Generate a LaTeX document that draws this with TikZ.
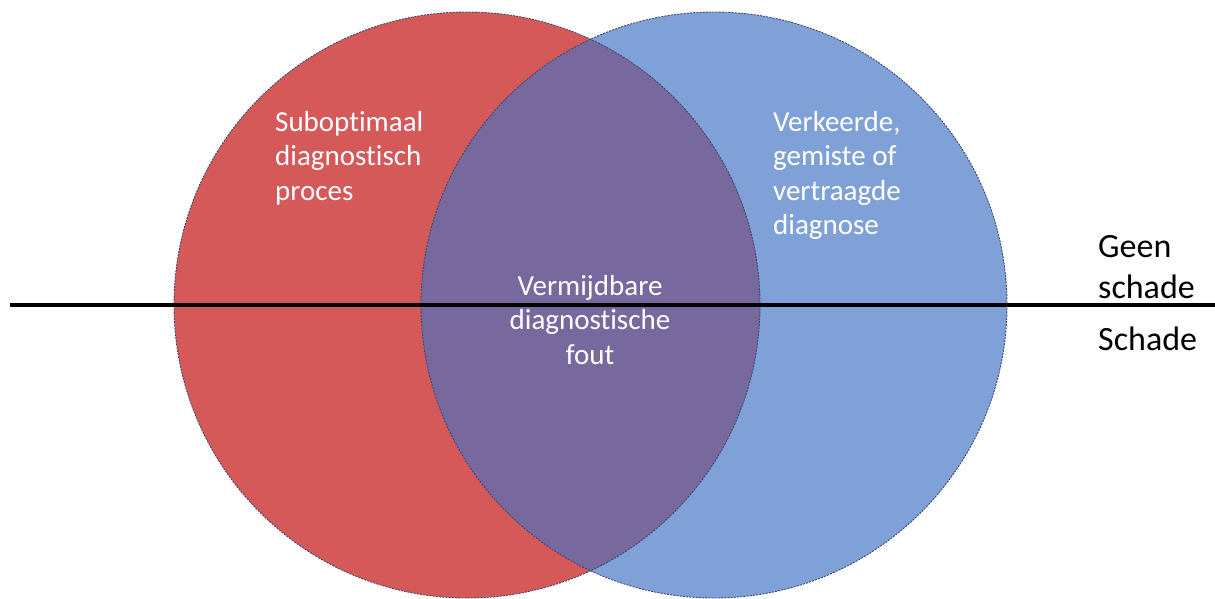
\documentclass[tikz,border=0pt]{standalone}
\usepackage{fontspec}
\setmainfont[Ligatures=NoCommon]{Carlito}
\definecolor{vred}{RGB}{214,89,90}
\definecolor{vblue}{RGB}{128,161,216}
\definecolor{vpurple}{RGB}{119,104,157}
\definecolor{vedge}{RGB}{60,70,105}
\begin{document}
\begin{tikzpicture}[x=1pt,y=-1pt,
  edge/.style={draw=vedge,line width=0.9pt,dash pattern=on 2pt off 1.2pt},
  wtext/.style={text=white,inner sep=0pt,font=\fontsize{29}{34.5}\selectfont},
  btext/.style={text=black,inner sep=0pt,font=\fontsize{34}{41}\selectfont}]
\useasboundingbox (0,0) rectangle (1215,598);
\coordinate (cr) at (467,305);
\coordinate (cb) at (714,305);
\fill[vred] (cr) circle[radius=293];
\fill[vblue] (cb) circle[radius=293];
\begin{scope}
  \clip (cr) circle[radius=293];
  \fill[vpurple] (cb) circle[radius=293];
\end{scope}
\draw[edge] (cr) circle[radius=293];
\draw[edge] (cb) circle[radius=293];
\coordinate (lineL) at (10,305);
\coordinate (lineR) at (1215,305);
\draw[line width=3.5pt] (lineL) -- (lineR);
\node[wtext,anchor=base west,align=left] (sub) at (275,200) {Suboptimaal\\diagnostisch\\proces};
\node[wtext,anchor=base west,align=left] (verk) at (773,234.5) {Verkeerde,\\gemiste of\\vertraagde\\diagnose};
\node[wtext,anchor=base,align=center] (verm) at (590,364) {Vermijdbare\\diagnostische\\fout};
\node[btext,anchor=base west,align=left] (geen) at (1098,298) {Geen\\schade};
\node[btext,anchor=base west] (schade) at (1098,350) {Schade};
\end{tikzpicture}
\end{document}
